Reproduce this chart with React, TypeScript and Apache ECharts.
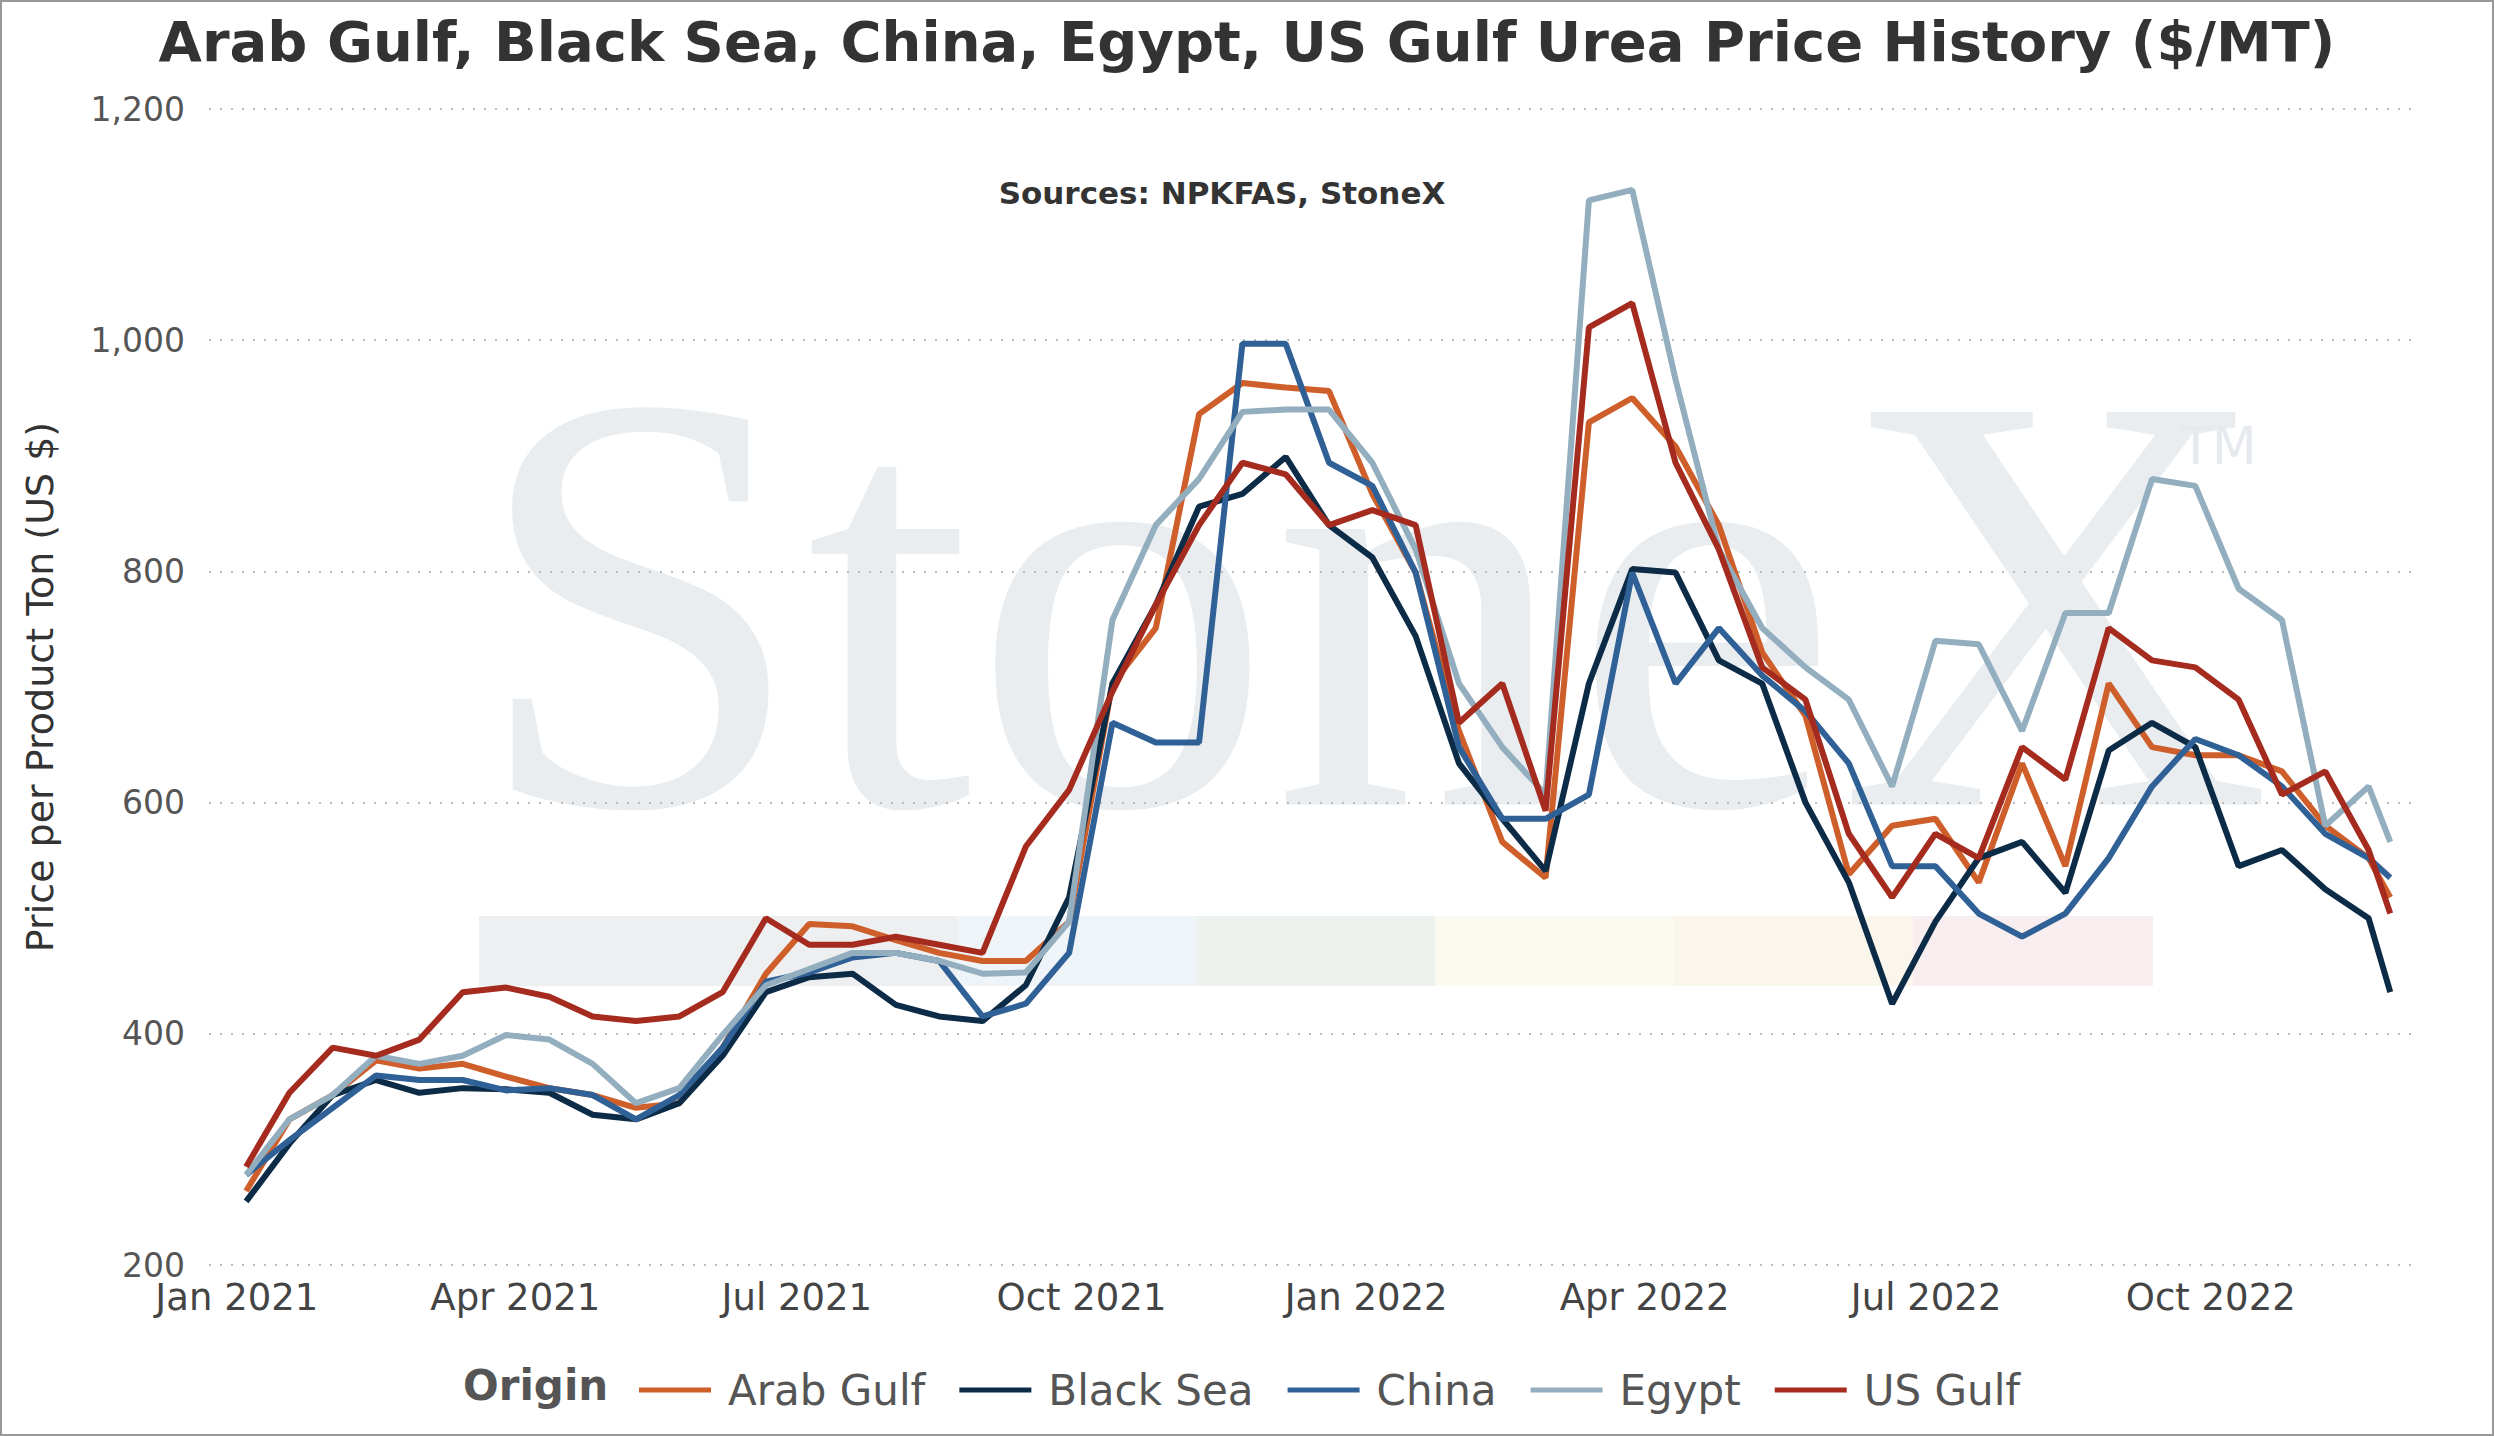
import { useRef, useEffect } from "react";
import * as echarts from "echarts";

// biweekly dates from Jan 2021
const startDate = Date.UTC(2021, 0, 4);
const dates = Array.from({ length: 51 }, (_, i) =>
  i === 50 ? Date.UTC(2022, 10, 28) : startDate + i * 14 * 86400000
);

const arabGulf = [264, 326, 347, 377, 370, 374, 363, 353, 347, 336, 340, 388, 452, 495, 493, 481, 470, 463, 463, 497,
  703, 751, 936, 963, 959, 956, 867, 799, 662, 566, 535, 929, 950, 908, 840, 730, 675, 538, 580, 586,
  531, 634, 545, 703, 648, 641, 641, 627, 580, 552, 518];
const blackSea = [255, 305, 347, 360, 349, 353, 352, 349, 330, 326, 340, 381, 436, 449, 452, 425, 415, 411, 442, 518,
  703, 771, 856, 867, 899, 840, 812, 744, 634, 586, 541, 703, 802, 799, 723, 703, 600, 531, 426, 497,
  552, 566, 522, 645, 669, 648, 545, 559, 525, 500, 436];
const china = [278, 308, 336, 364, 360, 360, 351, 353, 347, 326, 347, 388, 445, 453, 466, 470, 463, 415, 426, 470,
  669, 652, 652, 997, 997, 894, 874, 799, 648, 586, 586, 607, 799, 703, 751, 710, 679, 634, 545, 545,
  504, 484, 504, 552, 614, 655, 641, 614, 573, 552, 535];
const egypt = [278, 326, 347, 381, 374, 381, 399, 395, 374, 340, 353, 399, 442, 456, 470, 470, 463, 452, 453, 497,
  758, 840, 880, 938, 940, 940, 894, 819, 703, 648, 607, 1121, 1130, 966, 819, 751, 717, 689, 614, 740,
  737, 662, 764, 764, 880, 874, 785, 758, 580, 614, 566];
const usGulf = [285, 349, 388, 381, 395, 436, 440, 432, 415, 411, 415, 436, 500, 477, 477, 484, 477, 470, 562, 611,
  696, 771, 840, 894, 884, 840, 853, 840, 669, 703, 593, 1011, 1032, 894, 819, 717, 689, 573, 518, 573,
  552, 648, 620, 751, 723, 717, 689, 607, 627, 559, 504];

const seriesDefs = [
  { name: "Arab Gulf", data: arabGulf, color: "#CF5F2A" },
  { name: "Black Sea", data: blackSea, color: "#0C2B46" },
  { name: "China", data: china, color: "#2F6096" },
  { name: "Egypt", data: egypt, color: "#93AEBE" },
  { name: "US Gulf", data: usGulf, color: "#A52B1F" },
];

const quarterTicks = [
  Date.UTC(2021, 0, 1), Date.UTC(2021, 3, 1), Date.UTC(2021, 6, 1), Date.UTC(2021, 9, 1),
  Date.UTC(2022, 0, 1), Date.UTC(2022, 3, 1), Date.UTC(2022, 6, 1), Date.UTC(2022, 9, 1),
];
const monthNames = ["Jan", "Feb", "Mar", "Apr", "May", "Jun", "Jul", "Aug", "Sep", "Oct", "Nov", "Dec"];
const bandColors = ["#EDEFF1", "#EDEFF1", "#EEF4F8", "#EDF2EF", "#FBFAF0", "#FBF6EC", "#F8EEEF"];

const FONT = "DejaVu Sans";

const App = () => {
  const chartRef = useRef(null);

  useEffect(() => {
    if (!chartRef.current) return;
    const chart = echarts.init(chartRef.current, null, { renderer: "svg" });

    const bands = bandColors.map((c, i) => ({
      type: "rect",
      z: -10,
      shape: { x: 477 + i * 239, y: 914, width: 240, height: 70 },
      style: { fill: c },
    }));

    const option = {
      animation: false,
      backgroundColor: "#fff",
      title: [
        {
          text: "Arab Gulf, Black Sea, China, Egypt, US Gulf Urea Price History ($/MT)",
          left: "center",
          top: 6,
          textStyle: { fontFamily: FONT, fontSize: 56, fontWeight: "bold", color: "#333" },
        },
        {
          text: "Sources: NPKFAS, StoneX",
          left: 1215,
          top: 170,
          textAlign: "center",
          textStyle: { fontFamily: FONT, fontSize: 31, fontWeight: "bold", color: "#333" },
        },
      ],
      graphic: [
        {
          type: "text",
          z: -10,
          left: 470,
          top: 300,
          style: { text: "StoneX", font: "600px 'Liberation Serif'", fill: "#E9EDF0" },
        },
        {
          type: "text",
          z: -10,
          left: 2178,
          top: 418,
          style: { text: "TM", font: "52px 'DejaVu Sans'", fill: "#E6EAEE" },
        },
        ...bands,
        {
          type: "text",
          left: 461,
          top: 1362,
          style: { text: "Origin", font: `bold 42px '${FONT}'`, fill: "#555" },
        },
      ],
      legend: {
        left: 632,
        top: 1362,
        icon: "rect",
        itemWidth: 72,
        itemHeight: 5,
        itemGap: 34,
        textStyle: { fontFamily: FONT, fontSize: 42, color: "#555", padding: [0, 0, 0, 12] },
        data: seriesDefs.map((s) => s.name),
      },
      grid: { left: 207, right: 77, top: 107, bottom: 169 },
      xAxis: {
        type: "value",
        min: Date.UTC(2020, 11, 23),
        max: Date.UTC(2022, 11, 6),
        axisLine: { show: false },
        axisTick: { show: false },
        splitLine: { show: false },
        axisLabel: {
          customValues: quarterTicks,
          fontFamily: FONT,
          fontSize: 37,
          color: "#444",
          margin: 14,
          formatter: (v: number) => {
            const d = new Date(v);
            return monthNames[d.getUTCMonth()] + " " + d.getUTCFullYear();
          },
        },
      },
      yAxis: {
        type: "value",
        min: 200,
        max: 1200,
        interval: 200,
        name: "Price per Product Ton (US $)",
        nameLocation: "middle",
        nameGap: 150,
        nameTextStyle: { fontFamily: FONT, fontSize: 38, color: "#333" },
        axisLine: { show: false },
        axisTick: { show: false },
        axisLabel: {
          fontFamily: FONT,
          fontSize: 33,
          color: "#555",
          margin: 24,
          formatter: (v: number) => v.toLocaleString("en-US"),
        },
        splitLine: { lineStyle: { color: "#bbb", type: [2, 9], width: 2 } },
      },
      series: seriesDefs.map((s) => ({
        name: s.name,
        type: "line",
        z: 3,
        showSymbol: false,
        data: dates.map((d, i) => [d, s.data[i]]),
        itemStyle: { color: s.color },
        lineStyle: { color: s.color, width: 6 },
      })),
    };

    chart.setOption(option);
    return () => chart.dispose();
  }, []);

  return (
    <div
      style={{ position: "absolute", left: 0, top: 0, width: 2494, height: 1436, boxSizing: "border-box", border: "2px solid #999" }}
    >
      <div ref={chartRef} style={{ width: "100%", height: "100%" }} />
    </div>
  );
};

export default App;
